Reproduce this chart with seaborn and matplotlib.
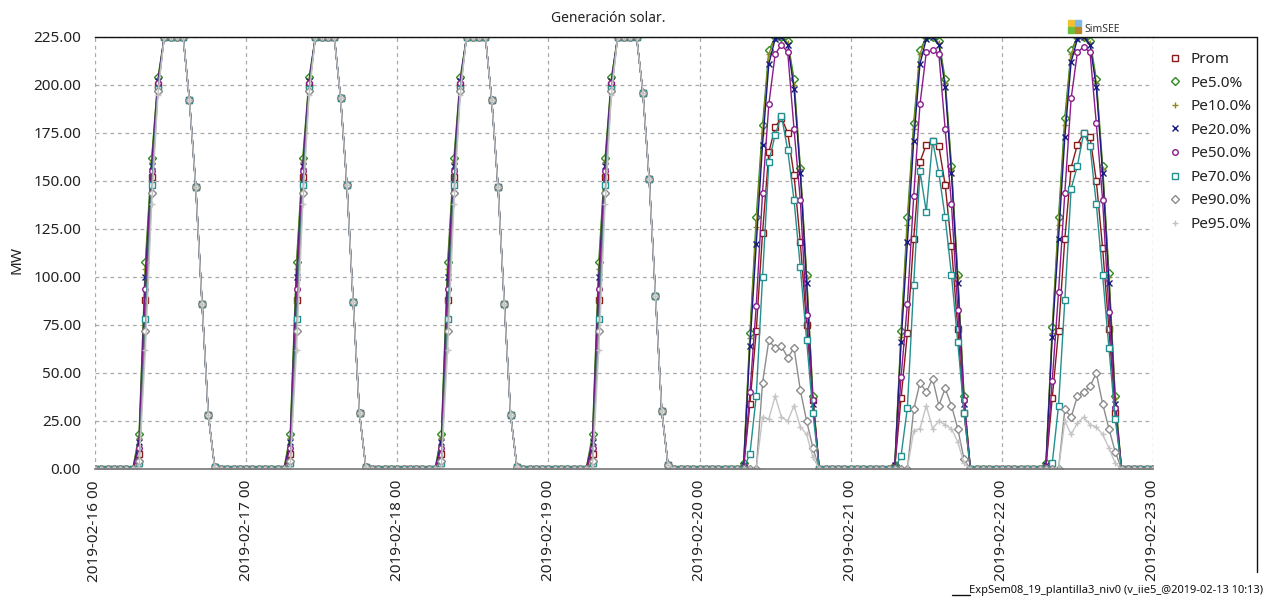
import numpy as np
import pandas as pd
import matplotlib
matplotlib.use("Agg")
import matplotlib.pyplot as plt
import seaborn as sns
from matplotlib.lines import Line2D
from matplotlib.patches import Rectangle

# ---------------- data ----------------
series_names = ["Prom", "Pe5.0%", "Pe10.0%", "Pe20.0%", "Pe50.0%", "Pe70.0%", "Pe90.0%", "Pe95.0%"]
series_colors = ["#8B1A1A", "#2E8B22", "#8A8A1E", "#1A1A80", "#8B1A8B", "#23908F", "#8C8C8C", "#C4C4C4"]
series_markers = ["s", "D", "+", "x", "o", "s", "D", "+"]

tick_labels = ["2019-02-16 00", "2019-02-17 00", "2019-02-18 00", "2019-02-19 00",
               "2019-02-20 00", "2019-02-21 00", "2019-02-22 00", "2019-02-23 00"]
y_ticks = [0, 25, 50, 75, 100, 125, 150, 175, 200, 225]

# observed days (16-19 Feb): morning ramp, hours 06..10
obs_rise = {
    "Prom":    [0, 8, 88, 152, 200],
    "Pe5.0%":  [0, 18, 108, 162, 204],
    "Pe10.0%": [0, 16, 104, 160, 203],
    "Pe20.0%": [0, 14, 100, 158, 202],
    "Pe50.0%": [0, 11, 94, 155, 201],
    "Pe70.0%": [0, 3, 78, 148, 198],
    "Pe90.0%": [0, 4, 72, 144, 197],
    "Pe95.0%": [0, 1, 62, 138, 195],
}
# observed days: hours 11..19, one row per day
obs_fall = [
    [225, 225, 225, 225, 192, 147, 86, 28, 1],
    [225, 225, 225, 225, 193, 148, 87, 29, 1],
    [225, 225, 225, 225, 192, 147, 86, 28, 1],
    [225, 225, 225, 225, 196, 151, 90, 30, 2],
]
# forecast days, hours 07..19
fc_day5 = {
    "Prom":    [1, 34, 72, 123, 165, 178, 183, 175, 153, 118, 75, 36, 0],
    "Pe5.0%":  [3, 71, 131, 179, 218, 225, 225, 223, 203, 157, 101, 38, 0],
    "Pe10.0%": [2, 68, 126, 175, 216, 225, 225, 222, 200, 156, 100, 37, 0],
    "Pe20.0%": [2, 64, 117, 169, 211, 224, 225, 221, 198, 154, 97, 34, 0],
    "Pe50.0%": [1, 40, 85, 144, 190, 216, 221, 217, 177, 140, 80, 36, 0],
    "Pe70.0%": [0, 8, 38, 100, 160, 174, 184, 166, 140, 105, 67, 29, 0],
    "Pe90.0%": [0, 0, 0, 45, 67, 63, 64, 58, 63, 41, 25, 11, 0],
    "Pe95.0%": [0, 0, 0, 27, 26, 38, 27, 25, 33, 22, 18, 6, 0],
}
fc_day6 = {
    "Prom":    [1, 37, 71, 120, 160, 169, 171, 168, 148, 116, 73, 29, 0],
    "Pe5.0%":  [2, 72, 131, 180, 218, 225, 225, 223, 203, 158, 101, 38, 0],
    "Pe10.0%": [2, 69, 127, 177, 216, 225, 225, 222, 201, 156, 100, 37, 0],
    "Pe20.0%": [2, 66, 118, 171, 211, 224, 225, 221, 199, 154, 97, 34, 0],
    "Pe50.0%": [1, 48, 86, 142, 190, 217, 218, 216, 177, 138, 83, 36, 0],
    "Pe70.0%": [0, 7, 32, 96, 155, 134, 171, 154, 131, 101, 66, 29, 0],
    "Pe90.0%": [0, 0, 0, 31, 45, 40, 47, 33, 42, 33, 21, 5, 0],
    "Pe95.0%": [0, 0, 0, 20, 21, 33, 21, 25, 23, 21, 14, 3, 0],
}
fc_day7 = {
    "Prom":    [1, 37, 72, 120, 157, 169, 175, 173, 150, 115, 73, 29, 0],
    "Pe5.0%":  [3, 74, 131, 183, 218, 225, 225, 223, 203, 158, 102, 38, 0],
    "Pe10.0%": [2, 71, 127, 179, 216, 225, 225, 222, 201, 156, 100, 37, 0],
    "Pe20.0%": [2, 69, 120, 173, 212, 224, 225, 221, 199, 154, 97, 34, 0],
    "Pe50.0%": [1, 46, 92, 144, 193, 217, 220, 217, 180, 140, 82, 32, 0],
    "Pe70.0%": [0, 3, 33, 88, 146, 158, 175, 168, 138, 101, 63, 26, 0],
    "Pe90.0%": [0, 0, 0, 31, 27, 38, 40, 43, 50, 34, 21, 9, 0],
    "Pe95.0%": [0, 0, 0, 25, 18, 24, 27, 23, 22, 18, 11, 3, 0],
}
forecast_days = [fc_day5, fc_day6, fc_day7]

# ---------------- assemble long table ----------------
n_hours = 7 * 24
rows = []
for name in series_names:
    vals = np.zeros(n_hours + 1)
    for d in range(4):
        vals[d * 24 + 6: d * 24 + 11] = obs_rise[name]
        vals[d * 24 + 11: d * 24 + 20] = obs_fall[d]
    for k, fc in enumerate(forecast_days):
        d = 4 + k
        vals[d * 24 + 7: d * 24 + 20] = fc[name]
    for h, v in enumerate(vals):
        rows.append((name, h, v))
df = pd.DataFrame(rows, columns=["serie", "hora", "MW"])

# ---------------- plot ----------------
sns.set_style("white")
plt.rcParams["font.family"] = ["Noto Sans", "DejaVu Sans"]

W, H = 1269, 602
fig = plt.figure(figsize=(W / 100, H / 100), dpi=100)
ax = fig.add_axes([95 / W, 1 - 469 / H, (1153 - 95) / W, (469 - 37) / H])

handles = []
for name, col, mk in zip(series_names, series_colors, series_markers):
    sub = df[df["serie"] == name]
    open_mk = mk in ("s", "D", "o")
    kw = dict(markerfacecolor="white" if open_mk else col, markeredgecolor=col,
              markersize=4 if mk != "D" else 3.6, markeredgewidth=1.0)
    sns.lineplot(data=sub, x="hora", y="MW", color=col, marker=mk, linewidth=1.0,
                 estimator=None, legend=False, ax=ax, **kw)
    handles.append(Line2D([], [], linestyle="none", marker=mk, color=col, **kw))

ax.set_xlim(0, n_hours)
ax.set_ylim(0, 225)
ax.set_xticks(np.arange(0, n_hours + 1, 24))
ax.set_xticklabels(tick_labels, rotation=90, fontsize=11, color="#222222")
ax.set_yticks(y_ticks)
ax.set_yticklabels([f"{v:.2f}" for v in y_ticks], fontsize=11, color="#222222")
ax.tick_params(axis="both", length=0)
ax.tick_params(axis="y", pad=10)
ax.tick_params(axis="x", pad=8)
ax.set_xlabel("")
ax.set_ylabel("")
fig.text(17 / W, 1 - 260 / H, "MW", rotation=90, ha="center", va="center", fontsize=11, color="#222222")

ax.grid(True, linestyle=(0, (3, 3)), color="#A8A8A8", linewidth=0.9)
for s in ("left", "right"):
    ax.spines[s].set_visible(False)
ax.spines["top"].set_color("#111111")
ax.spines["top"].set_linewidth(1.0)
ax.spines["bottom"].set_color("#777777")
ax.spines["bottom"].set_linewidth(1.2)
ax.set_axisbelow(True)

fig.text(608 / W, 1 - 18 / H, "Generación solar.", ha="center", va="center", fontsize=10, color="#222222")

leg = fig.legend(handles=handles, labels=series_names, loc="upper left",
                 bbox_to_anchor=(1163 / W, 1 - 46 / H), frameon=False, fontsize=11,
                 handlelength=0.8, handletextpad=0.6, labelspacing=0.56, borderaxespad=0)
for t in leg.get_texts():
    t.set_color("#222222")

# frame decorations
fig.add_artist(Line2D([1153 / W, 1257 / W], [1 - 37 / H, 1 - 37 / H], color="#111111", lw=1.0))
fig.add_artist(Line2D([1257 / W, 1257 / W], [1 - 37 / H, 1 - 572 / H], color="#111111", lw=1.0))
fig.add_artist(Line2D([952 / W, 970 / W], [1 - 595 / H, 1 - 595 / H], color="#111111", lw=1.0))

# SimSEE logo
sq = 6
for (lx, ly, c) in [(1068, 20, "#F2C12E"), (1075, 20, "#7FB8E6"), (1068, 27, "#6CBF3A"), (1075, 27, "#B8862A")]:
    fig.add_artist(Rectangle((lx / W, 1 - (ly + sq) / H), sq / W, sq / H, color=c, transform=fig.transFigure))
fig.text(1084 / W, 1 - 30 / H, "SimSEE", ha="left", va="center", fontsize=7.5, color="#333333")

fig.text(1263 / W, 1 - 590 / H, "ExpSem08_19_plantilla3_niv0 (v_iie5_@2019-02-13 10:13)",
         ha="right", va="center", fontsize=8, color="#111111")

fig.savefig("out.png", dpi=100)
